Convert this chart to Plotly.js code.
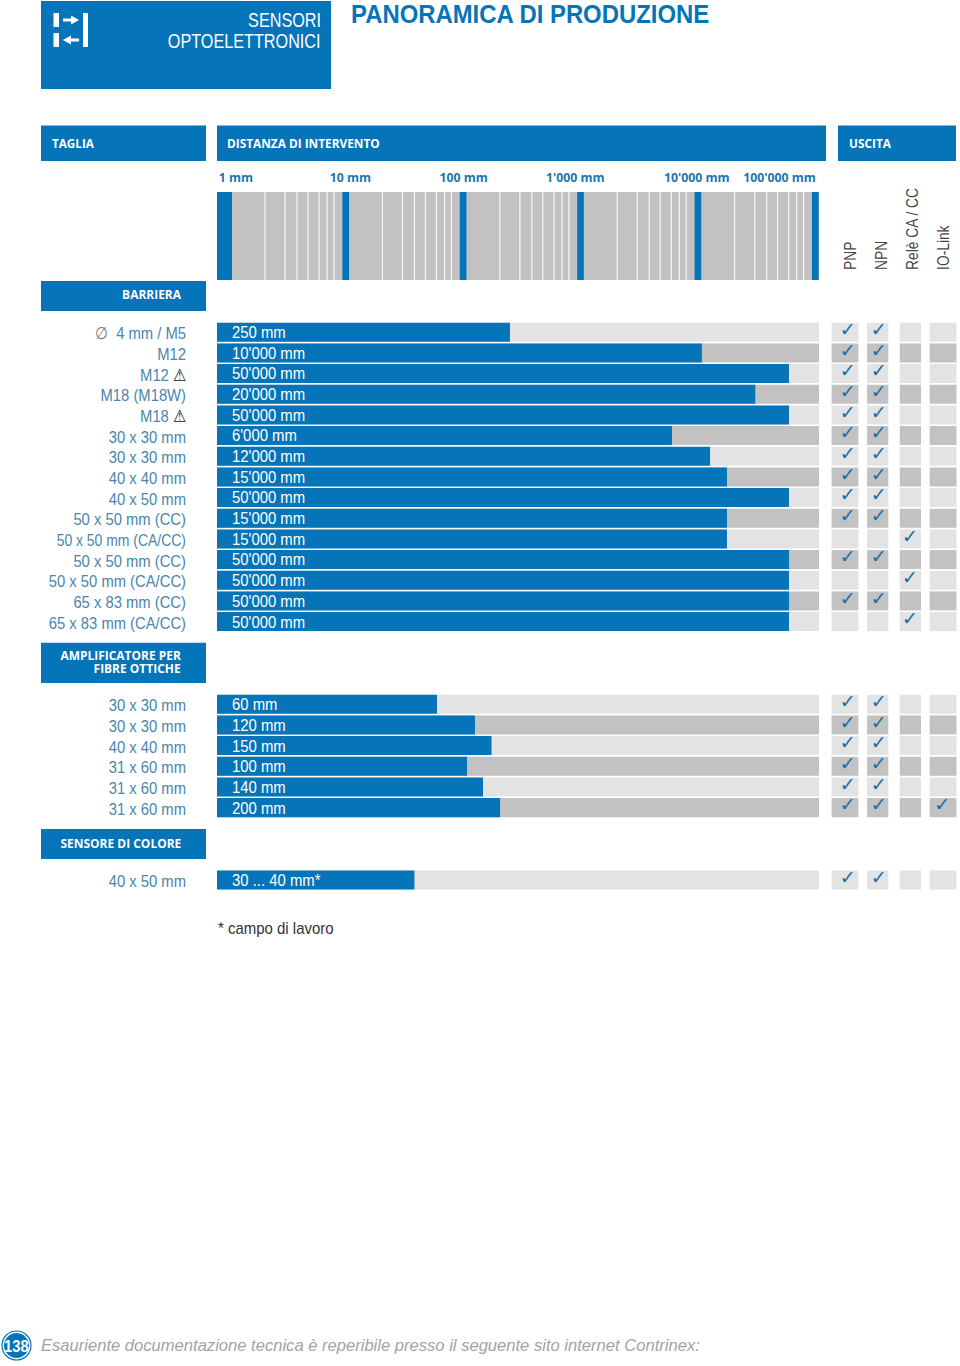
<!DOCTYPE html>
<html><head><meta charset="utf-8">
<script src="https://cdn.plot.ly/plotly-3.0.1.min.js"></script>
<style>html,body{margin:0;padding:0;background:#fff}#c{width:960px;height:1366px}</style>
</head><body><div id="c"></div>
<script>
// ---- data ----
const sizeLabels = ["<span style='color:#777'>∅</span>  4 mm / M5","M12","M12 <span style='color:#222'>⚠</span>","M18 (M18W)","M18 <span style='color:#222'>⚠</span>","30 x 30 mm","30 x 30 mm","40 x 40 mm","40 x 50 mm","50 x 50 mm (CC)","50 x 50 mm (CA/CC)","50 x 50 mm (CC)","50 x 50 mm (CA/CC)","65 x 83 mm (CC)","65 x 83 mm (CA/CC)",
  "30 x 30 mm","30 x 30 mm","40 x 40 mm","31 x 60 mm","31 x 60 mm","31 x 60 mm","40 x 50 mm"];
const distanceLabels = ["250 mm","10'000 mm","50'000 mm","20'000 mm","50'000 mm","6'000 mm","12'000 mm","15'000 mm","50'000 mm","15'000 mm","15'000 mm","50'000 mm","50'000 mm","50'000 mm","50'000 mm",
  "60 mm","120 mm","150 mm","100 mm","140 mm","200 mm","30 ... 40 mm*"];
// where each bar ends on the chart's log scale, in mm
const barReach = [233,10050,55500,28650,55500,5595,11800,16450,55500,16450,16450,55500,55500,55500,55500,
  55.7,117.4,162.4,100.4,137.4,192,35.8];
// row slot on the y axis
const rowSlots = [0,1,2,3,4,5,6,7,8,9,10,11,12,13,14,18,19,20,21,22,23,26.5];
// 0 = light track, 1 = dark track
const trackTone = [0,1,0,1,0,1,0,1,0,1,0,1,0,1,0,0,1,0,1,0,1,0];
const outputNames = ["PNP","NPN","Relè CA / CC","IO-Link"];
const pnp    = [1,1,1,1,1,1,1,1,1,1,0,1,0,1,0,1,1,1,1,1,1,1];
const npn    = [1,1,1,1,1,1,1,1,1,1,0,1,0,1,0,1,1,1,1,1,1,1];
const rele   = [0,0,0,0,0,0,0,0,0,0,1,0,1,0,1,0,0,0,0,0,0,0];
const iolink = [0,0,0,0,0,0,0,0,0,0,0,0,0,0,0,0,0,0,0,0,1,0];
const scaleLabels = ["1 mm","10 mm","100 mm","1'000 mm","10'000 mm","100'000 mm"];
const scaleLabelAt = [1.08,10.2,94,840,9090,46100];
const decades = [1,10,100,1000,10000];
const decadeMarks = [1.91,2.83,3.58,4.44,5.52,6.46,7.4];
const bandCentres = [0.863,9.3,93,930,9300,93000];
const scaleEnd = 100000, scaleStart = 0.745;

// ---- style ----
const BLUE="#0574b9", LIGHT="#e3e3e3", DARK="#c2c2c2", BODY='"Liberation Sans",sans-serif', HEAD='"Open Sans",sans-serif';
const W=960,H=1366, px=x=>x/W, py=y=>1-y/H;
const tones = trackTone.map(t=>t?DARK:LIGHT);
const slotH = 0.92;

const traces=[];
// ruler
traces.push({type:'bar',orientation:'h',x:[scaleEnd],y:[0.5],width:[1],xaxis:'x3',yaxis:'y3',marker:{color:DARK,line:{width:0}}});
const mx=[],my=[];
decades.forEach(d=>decadeMarks.forEach(m=>{mx.push(d*m,d*m,null);my.push(0,1,null);}));
traces.push({type:'scatter',mode:'lines',x:mx,y:my,xaxis:'x3',yaxis:'y3',line:{color:'#f4f4f4',width:1.3}});
const bx=[],by=[];
bandCentres.slice(1).forEach(c=>{bx.push(c,c,null);by.push(0,1,null);});
traces.push({type:'scatter',mode:'lines',x:bx,y:by,xaxis:'x3',yaxis:'y3',line:{color:BLUE,width:6.7}});
traces.push({type:'scatter',mode:'lines',x:[bandCentres[0],bandCentres[0]],y:[0,1],xaxis:'x3',yaxis:'y3',line:{color:BLUE,width:15}});
// tracks and bars
traces.push({type:'bar',orientation:'h',x:rowSlots.map(()=>scaleEnd),y:rowSlots,width:slotH,marker:{color:tones,line:{width:0}}});
traces.push({type:'bar',orientation:'h',x:barReach,y:rowSlots,width:slotH,marker:{color:BLUE,line:{width:0}}});
traces.push({type:'scatter',mode:'text',x:rowSlots.map(()=>1),y:rowSlots.map(s=>s+0.08),text:distanceLabels,textposition:'middle right',
  textfont:{family:BODY,size:17,color:'#fff'}});
// output grid
const colWidths=[0.82,0.65,0.65,0.82];
[pnp,npn,rele,iolink].forEach((col,i)=>{
  traces.push({type:'bar',orientation:'v',x:rowSlots.map(()=>i),y:rowSlots.map(()=>slotH),base:rowSlots.map(s=>s-slotH/2),
    width:colWidths[i],xaxis:'x2',yaxis:'y',marker:{color:tones,line:{width:0}}});
  const on=rowSlots.filter((s,k)=>col[k]);
  traces.push({type:'scatter',mode:'text',x:on.map(()=>i+[0.08,0.03,-0.01,-0.03][i]),y:on.map(s=>s-0.05),text:on.map(()=>'✓'),
    xaxis:'x2',yaxis:'y',textposition:'middle center',textfont:{family:'"DejaVu Sans"',size:19,color:'#1c6ea4'}});
});

// ---- page furniture ----
const box=(x0,y0,x1,y1,c)=>({type:'rect',xref:'paper',yref:'paper',x0:px(x0),x1:px(x1),y0:py(y0),y1:py(y1),fillcolor:c||BLUE,line:{width:0},layer:'below'});
const poly=(pts,c)=>({type:'path',xref:'paper',yref:'paper',path:'M'+pts.map(p=>px(p[0])+','+py(p[1])).join(' L')+' Z',fillcolor:c,line:{width:0},layer:'above'});
const whiteBox=(x0,y0,x1,y1)=>Object.assign(box(x0,y0,x1,y1,'#fff'),{layer:'above'});
const shapes=[
 box(41,1,331,89), box(41,125.5,206,161), box(217,125.5,826,161), box(838,125.5,956,161),
 box(41,281,206,311), box(41,642.7,206,683), box(41,829,206,859),
 whiteBox(53.5,13,59,27), whiteBox(53.5,33,59,47), whiteBox(83,13,88,47),
 poly([[63,18.6],[71,18.6],[71,15.5],[79,20],[71,24.5],[71,21.4],[63,21.4]],'#fff'),
 poly([[79,38.6],[71,38.6],[71,35.5],[63,40],[71,44.5],[71,41.4],[79,41.4]],'#fff'),
 {type:'circle',xref:'paper',yref:'paper',x0:px(2),x1:px(31),y0:py(1360),y1:py(1331),fillcolor:'#fff',line:{color:BLUE,width:1.2},layer:'below'},
 {type:'circle',xref:'paper',yref:'paper',x0:px(4),x1:px(29),y0:py(1358),y1:py(1333),fillcolor:BLUE,line:{width:0},layer:'below'}
];
const note=(text,x,y,anchor,font)=>({text,xref:'paper',yref:'paper',x:px(x),y:py(y),xanchor:anchor,yanchor:'middle',showarrow:false,font,align:anchor});
const headF={family:HEAD,size:13,color:'#fff',weight:700};
const annotations=[
 note('SENSORI',323,20,'right',{family:BODY,size:20,color:'#fff'}),
 note('OPTOELETTRONICI',323,41,'right',{family:BODY,size:20,color:'#fff'}),
 note('TAGLIA',50,143,'left',headF),
 note('DISTANZA DI INTERVENTO',225,143,'left',headF),
 note('USCITA',847,143,'left',headF),
 note('BARRIERA',183,294.5,'right',headF),
 note('AMPLIFICATORE PER',183,654.5,'right',headF),
 note('FIBRE OTTICHE',183,668.5,'right',headF),
 note('SENSORE DI COLORE',183,842.5,'right',headF),
 note('* campo di lavoro',216,928,'left',{family:BODY,size:17,color:'#333'}),
 note('138',16.5,1346,'center',{family:BODY,size:16,color:'#fff',weight:700}),
 note('Esauriente documentazione tecnica è reperibile presso il seguente sito internet Contrinex:',39,1345,'left',{family:BODY,size:17,color:'#a3a3a3',style:'italic'})
];
const noteSqueeze=[0.81,0.81,0.9,0.91,0.91,0.92,0.92,0.92,0.92,0.88,0.92,0.975];
const hidden={showgrid:false,zeroline:false,showline:false,ticks:'',showticklabels:false};
const layout={
 width:W,height:H,margin:{l:0,r:0,t:0,b:0},paper_bgcolor:'#fff',plot_bgcolor:'rgba(0,0,0,0)',showlegend:false,barmode:'overlay',hovermode:false,
 title:{text:'PANORAMICA DI PRODUZIONE',x:px(351),xanchor:'left',xref:'paper',y:py(14.5),yanchor:'middle',yref:'paper',
   font:{family:BODY,size:25,color:BLUE,weight:700}},
 xaxis:Object.assign({},hidden,{type:'log',range:[Math.log10(scaleStart),5],domain:[px(217),px(819)],anchor:'y'}),
 yaxis:{range:[27,-0.5],domain:[py(890.3),py(321.9)],anchor:'x',showgrid:false,zeroline:false,showline:false,ticks:'',
   tickmode:'array',tickvals:rowSlots,ticktext:sizeLabels,ticklabelstandoff:30,ticklabelshift:-1,tickfont:{family:BODY,size:17,color:'#4a86ad'}},
 xaxis2:{range:[(829-845)/32.7,(960-845)/32.7],domain:[px(829),px(960)],anchor:'y',side:'top',showgrid:false,zeroline:false,showline:false,ticks:'',
   tickmode:'array',tickvals:[0.18,0.12,0.05,0].map((o,i)=>i+o),ticktext:outputNames,tickangle:-90,ticklabelstandoff:51,
   tickfont:{family:BODY,size:17,color:'#444'}},
 xaxis3:{type:'log',range:[Math.log10(scaleStart),5],domain:[px(217),px(819)],anchor:'y3',side:'top',showgrid:false,zeroline:false,showline:false,ticks:'',
   tickmode:'array',tickvals:scaleLabelAt,ticktext:scaleLabels,tickangle:0,ticklabelstandoff:7,
   tickfont:{family:HEAD,size:12.5,color:'#1f75ad',weight:700}},
 yaxis3:Object.assign({},hidden,{range:[0,1],domain:[py(280),py(192)],anchor:'x3'}),
 shapes,annotations
};
// the reference type is condensed; no condensed family is installed, so narrow the real text
const squeeze=(el,f)=>{const L=el.getComputedTextLength();el.setAttribute('textLength',L*f);el.setAttribute('lengthAdjust','spacingAndGlyphs');};
Plotly.newPlot('c',traces,layout,{displayModeBar:false,staticPlot:true}).then(()=>{
  const all=s=>Array.from(document.querySelectorAll(s));
  all('.ytick text').forEach(t=>squeeze(t,t.textContent==='50 x 50 mm (CA/CC)'&&Math.abs(t.getBoundingClientRect().top-530)<12?0.82:0.87));
  all('.x2tick text').forEach(t=>squeeze(t,0.81));
  all('.x3tick text').forEach(t=>squeeze(t,0.98));
  all('.textpoint text').filter(t=>t.textContent!=='✓').forEach(t=>squeeze(t,0.875));
  all('.annotation-text').forEach((t,i)=>squeeze(t,noteSqueeze[i]));
  all('.gtitle').forEach(t=>squeeze(t,0.955));
});
</script></body></html>
